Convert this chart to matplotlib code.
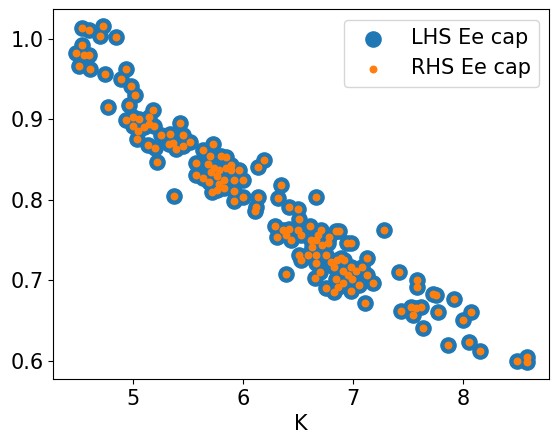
import matplotlib
matplotlib.use("Agg")
import matplotlib.pyplot as plt

K = [4.537, 4.606, 4.733, 4.706, 4.851, 4.543, 4.485, 4.555, 4.601, 4.515,
     4.610, 4.751, 4.936, 4.897, 4.987, 5.024, 4.773, 4.969, 5.187, 4.939,
     5.000, 5.060, 5.151, 5.429, 5.000, 5.045, 5.039, 5.105, 5.151, 5.191,
     5.136, 5.205, 5.257, 5.341, 5.454, 5.327, 5.368, 5.393, 5.459, 5.523,
     5.218, 5.377, 5.635, 5.731, 5.701, 5.801, 5.847, 5.574, 5.681, 5.740,
     5.711, 5.786, 5.847, 5.892, 5.892, 5.967, 5.574, 5.635, 5.695, 5.765,
     5.780, 5.831, 5.922, 5.998, 5.765, 5.831, 5.922, 5.998, 5.922, 6.134,
     6.134, 6.119, 5.720, 6.189, 6.110, 6.346, 6.316, 6.663, 6.421, 6.503,
     6.512, 6.294, 6.361, 6.421, 6.309, 6.436, 6.503, 6.527, 6.612, 6.709,
     6.679, 6.618, 6.633, 6.784, 6.845, 6.875, 6.775, 6.945, 6.981, 7.278,
     6.512, 6.588, 6.663, 6.754, 6.890, 7.132, 6.724, 6.663, 6.702, 6.654,
     6.799, 6.860, 6.920, 6.829, 6.906, 6.981, 7.026, 7.087, 7.126, 6.951,
     6.996, 6.845, 6.906, 7.056, 7.178, 6.754, 6.829, 6.981, 7.108, 7.419,
     7.580, 7.580, 7.731, 7.757, 7.435, 7.525, 7.571, 7.616, 7.550, 7.768,
     7.918, 8.070, 7.995, 7.632, 7.864, 8.054, 8.154, 8.494, 8.578, 8.578,
     6.391, 6.663, 6.527, 6.391, 6.863]

lhs_ee_cap = [1.014, 1.011, 1.016, 1.004, 1.003, 0.992, 0.983, 0.980, 0.980, 0.967,
              0.963, 0.957, 0.963, 0.950, 0.941, 0.930, 0.916, 0.918, 0.912, 0.899,
              0.903, 0.901, 0.903, 0.895, 0.892, 0.885, 0.875, 0.890, 0.894, 0.892,
              0.868, 0.864, 0.881, 0.882, 0.881, 0.870, 0.871, 0.863, 0.867, 0.872,
              0.847, 0.805, 0.862, 0.869, 0.854, 0.854, 0.853, 0.846, 0.845, 0.839,
              0.834, 0.837, 0.839, 0.837, 0.843, 0.837, 0.831, 0.827, 0.822, 0.829,
              0.820, 0.825, 0.825, 0.825, 0.812, 0.815, 0.811, 0.804, 0.798, 0.841,
              0.804, 0.791, 0.810, 0.849, 0.786, 0.818, 0.802, 0.803, 0.791, 0.789,
              0.776, 0.768, 0.762, 0.764, 0.754, 0.750, 0.763, 0.756, 0.767, 0.762,
              0.756, 0.750, 0.741, 0.754, 0.761, 0.761, 0.746, 0.746, 0.746, 0.762,
              0.731, 0.731, 0.731, 0.731, 0.727, 0.727, 0.744, 0.721, 0.710, 0.703,
              0.723, 0.725, 0.725, 0.716, 0.712, 0.716, 0.712, 0.716, 0.707, 0.706,
              0.702, 0.702, 0.696, 0.694, 0.696, 0.690, 0.685, 0.687, 0.672, 0.710,
              0.692, 0.700, 0.683, 0.681, 0.662, 0.667, 0.665, 0.667, 0.657, 0.660,
              0.677, 0.660, 0.650, 0.641, 0.620, 0.623, 0.612, 0.599, 0.604, 0.598,
              0.756, 0.750, 0.725, 0.708, 0.691]

rhs_ee_cap = list(lhs_ee_cap)

fig = plt.figure(figsize=(5.58, 4.44), dpi=100)
ax = fig.add_axes([0.0955, 0.1464, 0.8889, 0.8326])
ax.scatter(K, lhs_ee_cap, s=120, color="#1f77b4", label="LHS Ee cap")
ax.scatter(K, rhs_ee_cap, s=22, color="#ff7f0e", label="RHS Ee cap")
ax.set_xlabel("K", fontsize=15)
ax.tick_params(labelsize=15)
ax.set_xticks([5, 6, 7, 8])
ax.set_yticks([0.6, 0.7, 0.8, 0.9, 1.0])
ax.legend(fontsize=15, loc="upper right")
fig.savefig("out.png", dpi=100)
